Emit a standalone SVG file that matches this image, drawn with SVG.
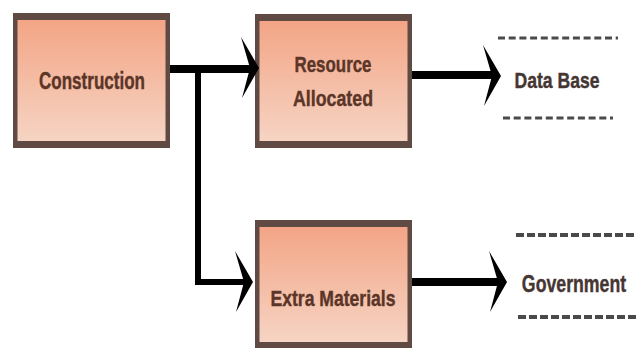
<svg xmlns="http://www.w3.org/2000/svg" xmlns:xlink="http://www.w3.org/1999/xlink" width="636" height="349" viewBox="0 0 636 349">
<style>
.frame{fill:#5F4A44}
.inner{fill:url(#g)}
.lbl{font-family:"Liberation Sans",Arial,sans-serif;font-weight:bold;fill:#5B3527;stroke:#5B3527;stroke-width:0.4;text-anchor:middle}
.out{font-family:"Liberation Sans",Arial,sans-serif;font-weight:bold;fill:#463633;stroke:#463633;stroke-width:0.4;text-anchor:middle}
.shaft{fill:none;stroke:#000;stroke-linejoin:miter}
.head{fill:#000}
.dash1{stroke:#4a4a4a;stroke-width:3;stroke-dasharray:7 3.7}
.dash2{stroke:#4a4a4a;stroke-width:4;stroke-dasharray:8 3;stroke-linecap:butt}
</style>
<defs>
<linearGradient id="g" x1="0" y1="0" x2="0" y2="1">
<stop offset="0" stop-color="#F3A586"/>
<stop offset="1" stop-color="#F6D4C3"/>
</linearGradient>
<path id="ah" d="M-18,-31 L0,0 L-17,30 L-9,0 Z"/>
</defs>
<rect width="636" height="349" fill="#fff"/>
<g id="construction">
<rect class="frame" x="13" y="13" width="157" height="135"/>
<rect class="inner" x="17.5" y="20" width="148" height="121"/>
<text class="lbl" x="92" y="89" font-size="23" textLength="106" lengthAdjust="spacingAndGlyphs">Construction</text>
</g>
<g id="resource">
<rect class="frame" x="255" y="14" width="157" height="134"/>
<rect class="inner" x="259.5" y="21" width="148" height="120"/>
<text class="lbl" x="333" y="72" font-size="22" textLength="77" lengthAdjust="spacingAndGlyphs">Resource</text>
<text class="lbl" x="333" y="106" font-size="22" textLength="80" lengthAdjust="spacingAndGlyphs">Allocated</text>
</g>
<g id="extra">
<rect class="frame" x="255" y="220" width="157" height="128"/>
<rect class="inner" x="259.5" y="227" width="148" height="115"/>
<text class="lbl" x="333" y="306" font-size="22" textLength="125" lengthAdjust="spacingAndGlyphs">Extra Materials</text>
</g>
<g id="database">
<line class="dash1" x1="498" y1="38" x2="618" y2="38"/>
<text class="out" x="557" y="88" font-size="22" textLength="85" lengthAdjust="spacingAndGlyphs">Data Base</text>
<line class="dash1" x1="503" y1="118" x2="613" y2="118"/>
</g>
<g id="government">
<line class="dash2" x1="516" y1="235" x2="636" y2="235"/>
<text class="out" transform="translate(574,292) scale(0.77,1)" x="0" y="0" font-size="23">Government</text>
<line class="dash2" x1="518" y1="317" x2="636" y2="317"/>
</g>
<g id="connectors">
<path class="shaft" stroke-width="8" d="M170,69 H252"/>
<use xlink:href="#ah" class="head" x="259" y="68"/>
<path class="shaft" stroke-width="6" d="M198,69 V282 H247"/>
<use xlink:href="#ah" class="head" x="253" y="282"/>
<path class="shaft" stroke-width="8" d="M412,75 H494"/>
<use xlink:href="#ah" class="head" x="501" y="76"/>
<path class="shaft" stroke-width="8" d="M412,282 H500"/>
<use xlink:href="#ah" class="head" x="507" y="282"/>
</g>
</svg>
